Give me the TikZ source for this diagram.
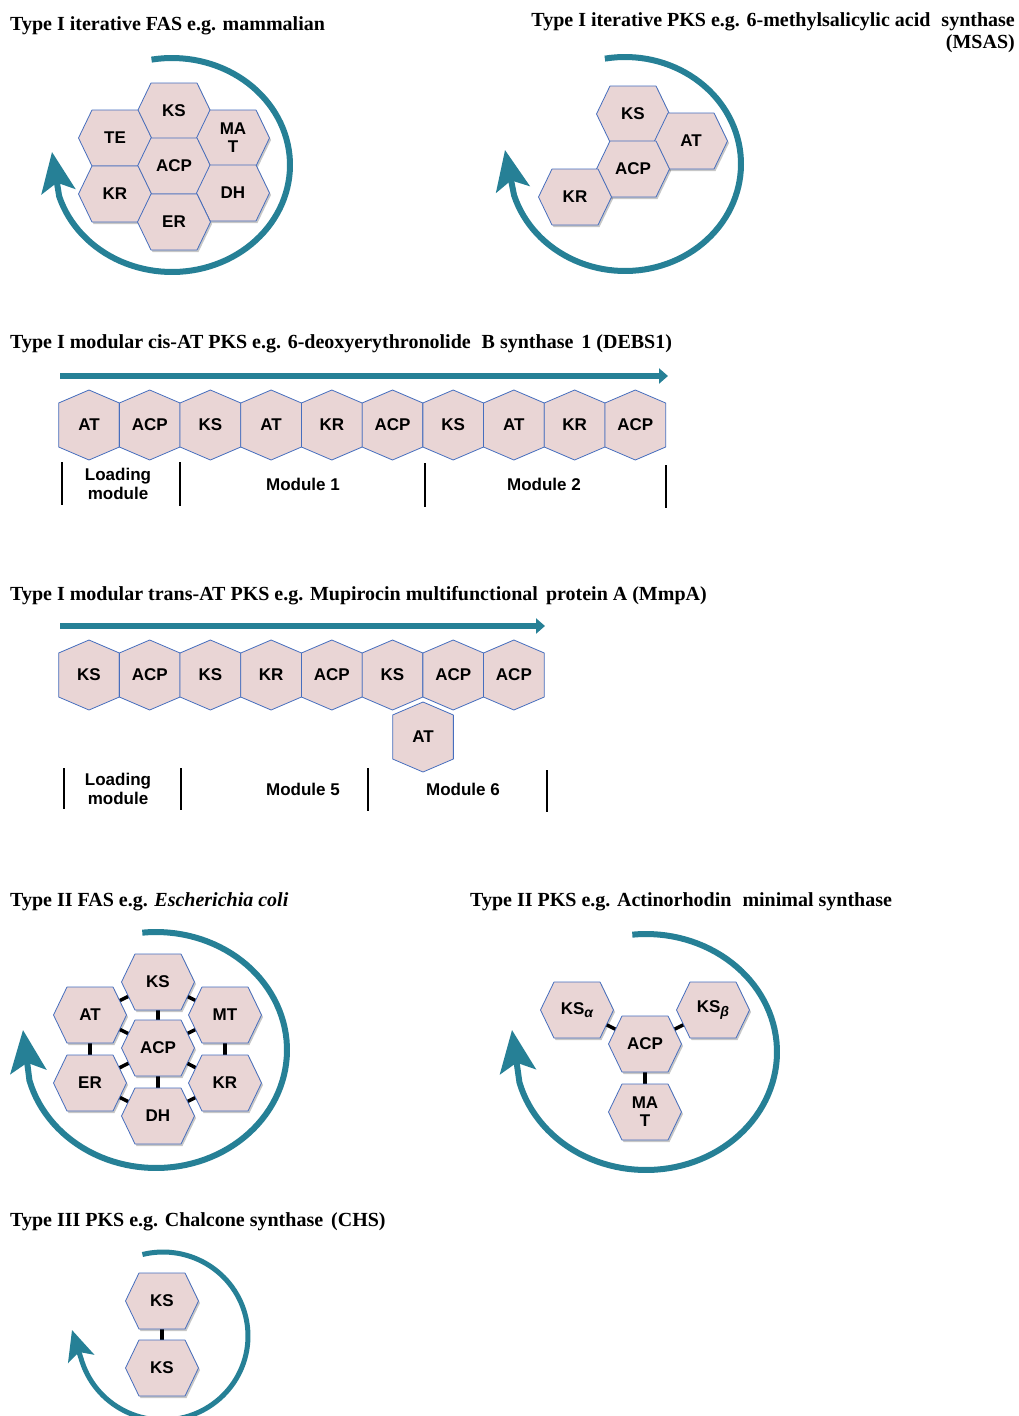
\documentclass[tikz,border=0pt]{standalone}
\usepackage{fontspec}
\setmainfont{Liberation Serif}
\setsansfont{Liberation Sans}
\usetikzlibrary{arrows.meta}
\pgfdeclarelayer{backmost}
\pgfdeclarelayer{background}
\pgfsetlayers{backmost,background,main}
\definecolor{arrowteal}{RGB}{38,128,150}
\definecolor{hexfillc}{RGB}{233,213,213}
\definecolor{hexlinec}{RGB}{70,110,190}
\newcommand\grsub[1]{\raisebox{-0.35ex}{\itshape\fontsize{14}{14}\selectfont #1}}
\tikzset{
  hexbody/.style={fill=hexfillc, draw=hexlinec, line width=0.8pt, line join=round},
  hexshade/.style={fill=black, opacity=0.22},
  hexlab/.style={font=\sffamily\bfseries\fontsize{17}{18}\selectfont, align=center, inner sep=0pt},
  cyc/.style={draw=arrowteal, line width=6pt},
  bararrow/.style={draw=arrowteal, line width=6pt, -{Triangle[length=9pt,width=15pt]}},
  sepline/.style={draw=black, line width=2.6pt},
  modlab/.style={font=\sffamily\bfseries\fontsize{17}{18.5}\selectfont, align=center, inner sep=0pt},
  ttl/.style={font=\bfseries\fontsize{20}{22}\selectfont, anchor=base west, inner sep=0pt},
  linkline/.style={draw=black, line width=3.5pt}
}
% flat-top hexagon: name, x, y, label
\newcommand\fhex[4]{%
  \begin{scope}[shift={({#2},{#3})}]
    \fill[hexshade] (-35,2) -- (-21.5,-26) -- (24.5,-26) -- (38,2) -- (24.5,30) -- (-21.5,30) -- cycle;
    \draw[hexbody] (-36.5,0) -- (-23,-28) -- (23,-28) -- (36.5,0) -- (23,28) -- (-23,28) -- cycle;
    \node[hexlab] (#1) at (0,0) {#4};
  \end{scope}}
% pointy-top hexagon: name, x, y, label
\newcommand\phex[4]{%
  \begin{scope}[shift={({#2},{#3})}]
    \draw[hexbody] (0,-35) -- (30.35,-22) -- (30.35,22) -- (0,35) -- (-30.35,22) -- (-30.35,-22) -- cycle;
    \node[hexlab] (#1) at (0,0) {#4};
  \end{scope}}
\begin{document}
\begin{tikzpicture}[x=1pt,y=-1pt]
\useasboundingbox (0,0) rectangle (1019,1416);
\begin{pgfonlayer}{backmost}
  \fill[white] (0,0) rectangle (1019,1416);
\end{pgfonlayer}

% ---------- titles ----------
\node[ttl] (t1) at (10,30) {Type I iterative FAS e.g. mammalian};
\node[font=\bfseries\fontsize{20}{22}\selectfont, anchor=north east, align=right, inner sep=0pt] (t2) at (1015,12) {Type I iterative PKS e.g. 6-methylsalicylic acid\hspace{0.3em} synthase\\(MSAS)};
\node[ttl] (t3) at (10,348) {Type I modular cis-AT PKS e.g. 6-deoxyerythronolide\hspace{0.3em} B synthase\hspace{0.15em} 1 (DEBS1)};
\node[ttl] (t4) at (10,600) {Type I modular trans-AT PKS e.g. Mupirocin multifunctional\hspace{0.15em} protein A (MmpA)};
\node[ttl] (t5) at (10,906) {Type II FAS e.g. \textit{Escherichia coli}};
\node[ttl] (t6) at (470,906) {Type II PKS e.g. Actinorhodin\hspace{0.3em} minimal synthase};
\node[ttl] (t7) at (10,1226) {Type III PKS e.g. Chalcone synthase\hspace{0.15em} (CHS)};

% ---------- Type I iterative FAS ----------
\draw[cyc, -{Stealth[length=40pt,width=34pt,inset=9pt]}] plot[domain=-100:163, samples=90] ({172+118*cos(\x)},{165+107*sin(\x)}) -- (52,152);
\fhex{fKS}{174}{111}{KS}
\fhex{fTE}{115}{138}{TE}
\fhex{fMAT}{233}{138}{MA\\T}
\fhex{fACP}{174}{166}{ACP}
\fhex{fKR}{115}{194}{KR}
\fhex{fDH}{233}{193}{DH}
\fhex{fER}{174}{222}{ER}

% ---------- Type I iterative PKS (MSAS) ----------
\draw[cyc, -{Stealth[length=40pt,width=34pt,inset=9pt]}] plot[domain=-100:163, samples=90] ({625+116*cos(\x)},{164+107*sin(\x)}) -- (505,150);
\fhex{mKS}{633}{114}{KS}
\fhex{mAT}{691}{141}{AT}
\fhex{mACP}{633}{169}{ACP}
\fhex{mKR}{575}{197}{KR}

% ---------- DEBS1 ----------
\draw[bararrow] (60,376) -- (668,376);
\foreach \lab [count=\i from 0] in {AT,ACP,KS,AT,KR,ACP,KS,AT,KR,ACP}
  \phex{d\i}{89+60.7*\i}{425}{\lab};
\draw[sepline] (62,462) -- (62,505);
\draw[sepline] (180,462) -- (180,506);
\draw[sepline] (425,463) -- (425,507);
\draw[sepline] (666,465) -- (666,508);
\node[modlab] (dl) at (118,484) {Loading\\module};
\node[modlab] (dm1) at (303,484) {Module 1};
\node[modlab] (dm2) at (544,484) {Module 2};

% ---------- MmpA ----------
\draw[bararrow] (60,626) -- (545,626);
\foreach \lab [count=\i from 0] in {KS,ACP,KS,KR,ACP,KS,ACP,ACP}
  \phex{p\i}{89+60.7*\i}{675}{\lab};
\phex{pAT}{423}{737}{AT}
\draw[sepline] (64,768) -- (64,809);
\draw[sepline] (181,768) -- (181,810);
\draw[sepline] (368,768) -- (368,811);
\draw[sepline] (547,770) -- (547,812);
\node[modlab] (pl) at (118,789) {Loading\\module};
\node[modlab] (pm5) at (303,789) {Module 5};
\node[modlab] (pm6) at (463,789) {Module 6};

% ---------- Type II FAS ----------
\draw[cyc, -{Stealth[length=42pt,width=36pt,inset=9pt]}] plot[domain=-96:165, samples=90] ({156+131*cos(\x)},{1050+118*sin(\x)}) -- (23,1030);
\fhex{eKS}{158}{982}{KS}
\fhex{eAT}{90}{1015}{AT}
\fhex{eMT}{225}{1015}{MT}
\fhex{eACP}{158}{1048}{ACP}
\fhex{eER}{90}{1083}{ER}
\fhex{eKR}{225}{1083}{KR}
\fhex{eDH}{158}{1116}{DH}
\begin{pgfonlayer}{background}
  \draw[linkline] (eKS) -- (eAT);
  \draw[linkline] (eKS) -- (eMT);
  \draw[linkline] (eKS) -- (eACP);
  \draw[linkline] (eAT) -- (eACP);
  \draw[linkline] (eMT) -- (eACP);
  \draw[linkline] (eAT) -- (eER);
  \draw[linkline] (eMT) -- (eKR);
  \draw[linkline] (eACP) -- (eER);
  \draw[linkline] (eACP) -- (eKR);
  \draw[linkline] (eACP) -- (eDH);
  \draw[linkline] (eER) -- (eDH);
  \draw[linkline] (eKR) -- (eDH);
\end{pgfonlayer}

% ---------- Type II PKS ----------
\draw[cyc, -{Stealth[length=42pt,width=36pt,inset=9pt]}] plot[domain=-96:165, samples=90] ({646+131*cos(\x)},{1052+118*sin(\x)}) -- (512,1030);
\fhex{kKSa}{577}{1010}{KS\grsub{α}}
\fhex{kKSb}{713}{1010}{KS\grsub{β}}
\fhex{kACP}{645}{1044}{ACP}
\fhex{kMAT}{645}{1112}{MA\\T}
\begin{pgfonlayer}{background}
  \draw[linkline] (kKSa) -- (kACP);
  \draw[linkline] (kKSb) -- (kACP);
  \draw[linkline] (kACP) -- (kMAT);
\end{pgfonlayer}

% ---------- Type III PKS ----------
\draw[cyc, line width=5pt, -{Stealth[length=30pt,width=27pt,inset=7pt]}] plot[domain=-104:162, samples=90] ({163+85*cos(\x)},{1336+84*sin(\x)}) -- (72,1330);
\fhex{cKS1}{162}{1301}{KS}
\fhex{cKS2}{162}{1368}{KS}
\begin{pgfonlayer}{background}
  \draw[linkline] (cKS1) -- (cKS2);
\end{pgfonlayer}
\end{tikzpicture}
\end{document}
